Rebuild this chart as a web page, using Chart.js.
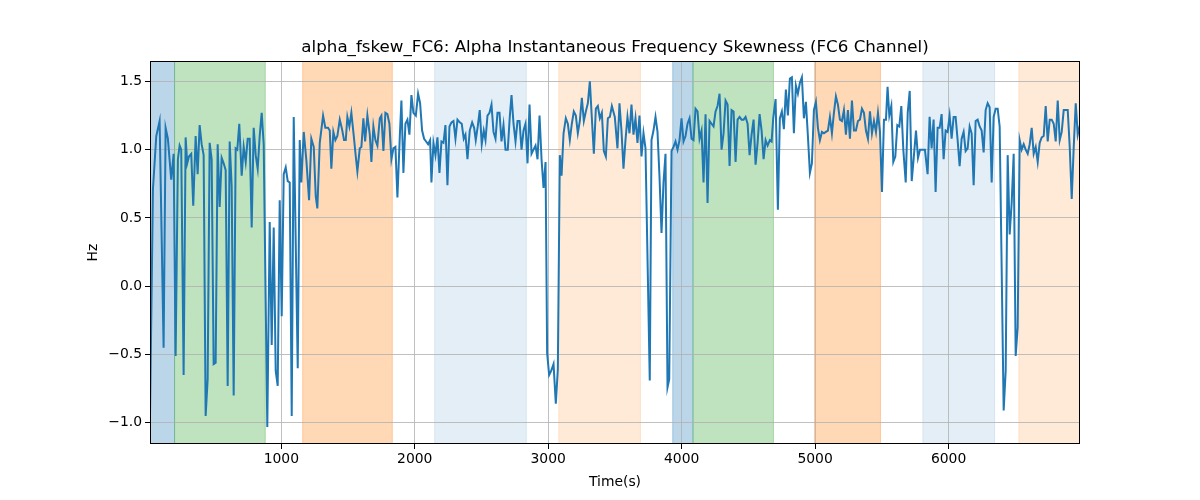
<!DOCTYPE html>
<html>
<head>
<meta charset="utf-8">
<title>alpha_fskew_FC6</title>
<script src="https://cdn.jsdelivr.net/npm/chart.js@4.4.1/dist/chart.umd.min.js"></script>
<style>
  html, body { margin: 0; padding: 0; background: #fff; }
  #wrap { width: 1200px; height: 500px; }
</style>
</head>
<body>
<div id="wrap"><canvas id="chart" width="1200" height="500"></canvas></div>
<script>
// time stamps (s)
const timeSec = [
  16,38,63,88,118,133,150,175,193,208,225,238,250,268,283,295,308,325,340,358,373,388,403,418,433,
  448,463,478,493,508,523,538,553,568,583,598,613,628,643,658,670,685,703,718,733,748,763,778,793,808,
  823,838,853,868,895,913,928,943,958,973,988,1003,1018,1033,1048,1063,1078,1093,1123,1138,1150,1168,
  1188,1208,1225,1243,1258,1270,1288,1313,1330,1350,1363,1375,1390,1405,1420,1438,1455,1470,1483,1495,
  1510,1525,1543,1558,1570,1588,1600,1615,1628,1645,1663,1675,1690,1705,1720,1738,1750,1765,1780,1795,
  1810,1825,1840,1855,1870,1888,1900,1915,1930,1945,1960,1975,1990,2008,2025,2040,2055,2070,2085,2100,
  2115,2125,2140,2155,2170,2185,2200,2215,2230,2245,2260,2275,2290,2305,2320,
  2337,2352,2367,2380,2395,2412,2430,2445,2457,2472,2487,2502,2517,2530,2545,2560,2575,2590,2605,2620,
  2635,2650,2665,2680,2697,2712,2725,2740,2755,2770,2785,2800,2815,2830,2845,2860,2875,2890,2905,2920,
  2935,2950,2965,2980,2992,3007,3022,3040,3057,3072,3087,3100,3115,3132,3147,3162,3177,3192,3207,3222,
  3237,3252,3267,3282,3297,3312,3327,3342,3357,3372,3387,3402,3417,3432,3447,3462,3477,
  3499,3519,3534,3549,3564,3579,3594,3609,3624,3639,3654,3669,3684,3699,3714,3729,3761,3774,3789,3804,
  3819,3834,3849,3864,3879,3894,3907,3924,3939,3954,3969,3984,3999,4014,4029,4044,4059,4074,4089,4104,
  4119,4134,4149,4164,4179,4194,4209,4224,4239,4254,4269,4284,4299,4314,4329,4344,4359,4374,4389,4404,
  4419,4434,4449,4464,4479,4494,4509,4524,4539,4554,4569,4584,4599,4614,4629,4644,
  4661,4674,4686,4704,4721,4736,4751,4766,4781,4796,4811,4826,4841,4856,4871,4886,4901,4916,4931,4946,
  4961,4976,4991,5006,5021,5036,5051,5066,5081,5096,5111,5126,5141,5156,5171,5186,5201,5216,5231,5246,
  5261,5276,5291,5306,5321,5336,5351,5366,5381,5396,5411,5426,5441,5456,5471,5486,5501,5516,5531,5543,
  5556,5571,5586,5601,5616,5631,5646,5661,5679,5694,5709,5724,5739,5756,5771,5786,5801,
  5823,5843,5858,5873,5888,5903,5918,5933,5948,5963,5978,5993,6008,6023,6038,6053,6068,6083,6098,6113,
  6128,6143,6158,6173,6188,6203,6218,6233,6248,6263,6278,6293,6308,6323,6338,6353,6368,6383,6413,6428,
  6443,6458,6473,6488,6503,6518,6533,6548,6563,6578,6593,6608,6623,6638,6653,6668,6683,6698,6713,6728,
  6743,6758,6773,6788,6803,6818,6833,6848,6863,6878,6893,6908,6923,6938,6953,6968,6985
];

// alpha frequency skewness (Hz)
const alphaSkew = [
  -0.95,0.71,1.10,1.21,-0.45,1.16,1.08,0.78,0.97,-0.51,0.93,1.03,1.00,-0.65,1.09,0.90,0.95,0.97,0.59,1.10,0.82,1.18,1.04,0.96,-0.95,
  -0.68,1.05,0.93,-0.57,-0.56,1.04,0.58,0.94,0.90,0.85,-0.73,1.06,0.73,-0.80,1.01,1.00,1.19,0.81,1.02,0.91,1.08,1.08,0.43,1.16,0.96,
  0.86,1.10,1.27,1.04,-1.03,0.47,-0.43,0.43,-0.62,-0.73,0.63,-0.22,0.82,0.87,0.77,0.76,-0.95,1.24,-0.60,1.07,0.76,1.13,
  0.92,0.63,1.08,1.02,0.66,0.57,1.05,1.25,1.16,1.16,1.14,0.86,1.13,1.07,1.10,1.22,1.15,1.07,1.07,1.24,
  1.17,1.27,1.10,0.95,0.84,1.01,1.02,1.23,1.06,1.25,1.11,0.91,1.17,1.07,1.03,1.23,1.25,0.99,1.27,1.26,
  1.19,0.93,1.01,1.02,0.65,1.10,1.36,0.83,1.19,1.22,1.11,1.40,1.27,1.25,1.41,1.34,1.14,1.08,1.06,1.04,
  1.07,0.76,1.05,0.96,1.09,0.83,1.06,1.05,1.18,0.74,1.17,1.20,1.21,1.08,1.22,
  1.20,1.19,1.08,1.11,0.93,1.14,1.20,1.16,1.07,1.17,1.29,1.04,1.14,1.07,1.25,1.27,1.33,1.13,1.08,1.27,
  1.27,1.06,1.18,1.00,1.00,1.24,1.40,1.19,1.06,1.21,1.21,1.00,1.14,1.19,0.90,1.33,0.97,1.00,1.03,0.93,
  1.25,0.93,0.72,0.91,-0.49,-0.65,-0.62,-0.57,-0.86,-0.61,0.96,0.81,1.12,1.23,1.19,1.07,1.19,1.28,1.25,1.12,
  1.21,1.38,1.21,1.28,1.34,1.50,1.23,0.97,1.30,1.32,1.23,1.27,0.99,0.95,1.23,1.24,1.32,
  1.24,1.01,1.34,1.14,0.86,1.07,1.24,1.12,1.33,1.11,1.23,1.05,1.25,0.95,1.12,1.01,-0.69,1.07,1.14,1.24,
  1.13,0.80,0.39,0.76,0.97,-0.74,-0.68,0.99,1.02,1.06,1.00,1.07,1.23,1.06,1.10,1.19,1.23,1.08,1.07,1.30,
  1.28,1.08,1.14,0.76,1.26,0.61,1.21,1.19,1.17,1.28,1.32,1.41,1.00,1.12,1.36,1.33,0.88,1.29,1.28,0.91,
  1.22,1.24,1.22,1.22,1.24,1.19,0.96,1.11,1.22,0.89,1.05,1.26,1.14,0.93,1.07,1.03,
  1.07,1.06,1.23,1.37,0.56,1.23,1.28,1.15,1.44,1.25,1.52,1.53,1.12,1.47,1.41,1.49,1.53,1.23,1.35,1.10,
  0.83,0.90,1.29,1.35,1.16,1.07,1.13,1.12,1.13,1.14,1.24,1.12,1.27,1.39,1.33,1.22,1.21,1.29,1.11,1.29,
  1.08,1.36,1.14,1.14,1.21,1.22,1.30,1.27,1.14,1.08,1.28,1.12,1.21,1.13,1.27,1.13,0.69,1.22,1.22,1.46,
  1.25,1.32,0.91,0.95,1.18,1.17,1.32,1.00,0.76,1.27,1.43,0.77,0.94,1.14,0.94,1.00,1.00,
  1.00,0.82,1.24,1.01,1.22,0.69,1.16,1.16,1.26,0.93,1.14,1.13,1.25,1.08,1.24,1.24,1.07,0.88,1.08,1.13,
  0.99,1.01,1.17,1.12,0.74,1.21,1.22,1.17,1.14,0.98,1.29,1.34,1.31,0.76,1.24,1.30,1.30,1.17,-0.91,-0.62,
  0.96,0.38,0.61,0.97,-0.51,-0.30,1.07,1.00,1.04,1.00,0.97,1.04,1.16,0.97,1.02,0.91,1.05,1.09,1.10,1.32,
  1.06,1.22,1.22,1.19,1.06,1.36,1.07,1.13,1.29,1.29,1.29,1.02,0.64,1.02,1.34,1.11,1.18
];

const xTicks = [1000, 2000, 3000, 4000, 5000, 6000];
const yTicks = [-1.0, -0.5, 0.0, 0.5, 1.0, 1.5];

// shaded stages (s)
const spanStart = [16, 200, 1160, 2149, 3079, 3933, 4085, 4995, 5807, 6527];
const spanEnd   = [200, 880, 1832, 2836, 3691, 4085, 4688, 5490, 6345, 6985];
const spanKind  = ['blue', 'green', 'orange', 'paleBlue', 'paleOrange', 'blue', 'green', 'orange', 'paleBlue', 'paleOrange'];

const spanFill = {
  blue: 'rgba(31,119,180,0.3)',
  green: 'rgba(44,160,44,0.3)',
  orange: 'rgba(255,127,14,0.3)',
  paleBlue: 'rgba(31,119,180,0.12)',
  paleOrange: 'rgba(255,127,14,0.16)'
};

const FONT = 'DejaVu Sans, sans-serif';

const spanPlugin = {
  id: 'spans',
  beforeDraw(chart) {
    const {ctx, chartArea: a, scales: {x}} = chart;
    ctx.save();
    ctx.beginPath();
    ctx.rect(a.left, a.top, a.right - a.left, a.bottom - a.top);
    ctx.clip();
    for (let i = 0; i < spanStart.length; i++) {
      const x0 = x.getPixelForValue(spanStart[i]);
      const x1 = x.getPixelForValue(spanEnd[i]);
      ctx.fillStyle = spanFill[spanKind[i]];
      ctx.fillRect(x0, a.top, x1 - x0, a.bottom - a.top);
      ctx.strokeStyle = spanFill[spanKind[i]];
      ctx.lineWidth = 1;
      ctx.beginPath();
      ctx.moveTo(x0, a.top); ctx.lineTo(x0, a.bottom);
      ctx.moveTo(x1, a.top); ctx.lineTo(x1, a.bottom);
      ctx.stroke();
    }
    ctx.restore();
  }
};

const framePlugin = {
  id: 'frame',
  afterDatasetsDraw(chart) {
    const {ctx, chartArea: a} = chart;
    ctx.save();
    ctx.strokeStyle = '#000';
    ctx.lineWidth = 1;
    ctx.strokeRect(Math.round(a.left) + 0.5, Math.round(a.top) + 0.5,
      Math.round(a.right - a.left) - 1, Math.round(a.bottom - a.top) - 1);
    ctx.restore();
  }
};

const points = timeSec.map((t, i) => ({x: t, y: alphaSkew[i]}));

new Chart(document.getElementById('chart'), {
  type: 'line',
  data: {
    datasets: [{
      label: 'alpha_fskew_FC6',
      data: points,
      borderColor: '#1f77b4',
      borderWidth: 2,
      pointRadius: 0,
      tension: 0,
      fill: false
    }]
  },
  options: {
    responsive: false,
    animation: false,
    events: [],
    layout: { padding: { top: 0, left: 0, right: 120, bottom: 0 } },
    plugins: {
      legend: { display: false },
      tooltip: { enabled: false },
      title: {
        display: true,
        fullSize: false,
        text: 'alpha_fskew_FC6: Alpha Instantaneous Frequency Skewness (FC6 Channel)',
        color: '#000',
        font: { family: FONT, size: 16.7, weight: 'normal', lineHeight: 1.2 },
        padding: { top: 38, bottom: 3 }
      }
    },
    scales: {
      x: {
        type: 'linear',
        min: 16,
        max: 6985,
        afterBuildTicks: s => { s.ticks = xTicks.map(v => ({value: v})); },
        afterFit: s => { s.height = 56; },
        border: { display: false },
        grid: { color: '#b0b0b0', lineWidth: 0.8, tickColor: '#000', tickLength: 5, tickWidth: 1 },
        ticks: {
          color: '#000', padding: 2, maxRotation: 0, autoSkip: false,
          font: { family: FONT, size: 13.9 },
          callback: v => String(v)
        },
        title: {
          display: true, text: 'Time(s)', color: '#000',
          font: { family: FONT, size: 13.9, lineHeight: 1.2 },
          padding: { top: 0, bottom: 9 }
        }
      },
      y: {
        type: 'linear',
        min: -1.155,
        max: 1.649,
        afterBuildTicks: s => { s.ticks = yTicks.map(v => ({value: v})); },
        afterFit: s => { s.width = 150; },
        border: { display: false },
        grid: { color: '#b0b0b0', lineWidth: 0.8, tickColor: '#000', tickLength: 5, tickWidth: 1 },
        ticks: {
          color: '#000', padding: 3, autoSkip: false,
          font: { family: FONT, size: 13.9 },
          callback: v => v.toFixed(1).replace('-', '\u2212')
        },
        title: {
          display: true, text: 'Hz', color: '#000',
          font: { family: FONT, size: 13.9, lineHeight: 1.2 },
          padding: { top: 85, bottom: 0 }
        }
      }
    }
  },
  plugins: [spanPlugin, framePlugin]
});
</script>
</body>
</html>
